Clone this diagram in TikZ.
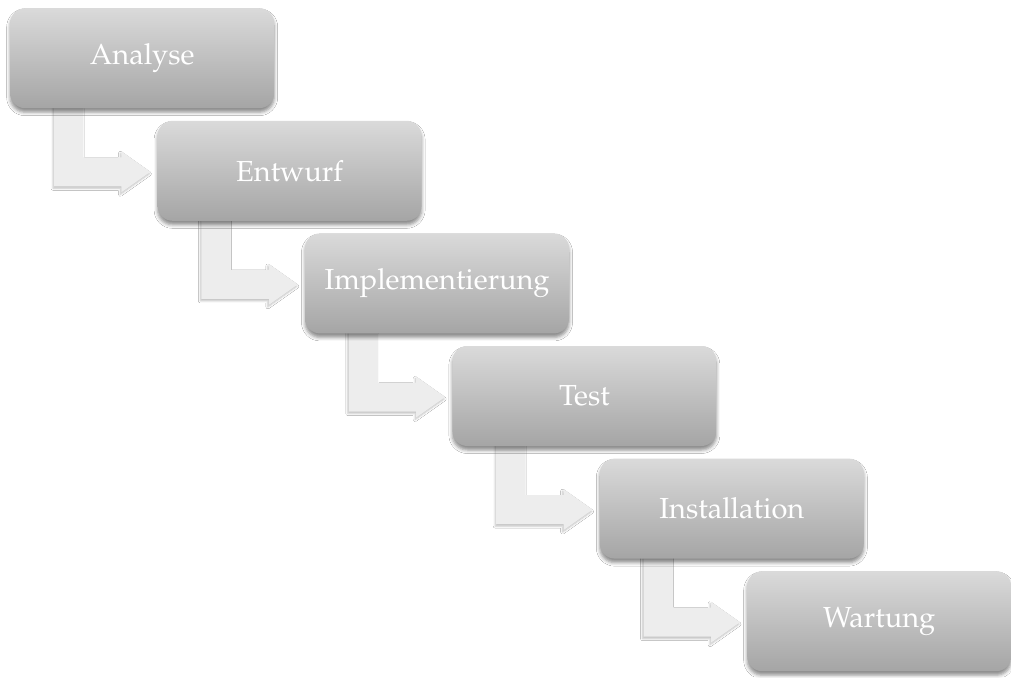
\documentclass[tikz,border=0pt]{standalone}
\usepackage[T1]{fontenc}
\usepackage{mathpazo}
\usetikzlibrary{calc,shadows.blur}
\pgfdeclarelayer{background}
\pgfsetlayers{background,main}
\definecolor{boxtop}{HTML}{DADADA}
\definecolor{boxbot}{HTML}{A5A5A5}
\definecolor{flowfill}{HTML}{EDEDED}

\begin{document}
\begin{tikzpicture}[x=1pt,y=-1pt,
  phase/.style={rectangle, rounded corners=15pt, anchor=north west,
    minimum width=264pt, minimum height=100pt, inner sep=0pt,
    top color=boxtop, bottom color=boxbot, draw=none, text=white,
    font=\fontsize{29}{34}\selectfont,
    blur shadow={shadow xshift=0pt, shadow yshift=-4pt,
      shadow blur radius=3.5pt, shadow opacity=45}},
  flow/.style={fill=flowfill,
    blur shadow={shadow xshift=-1pt, shadow yshift=-2pt,
      shadow blur radius=2pt, shadow opacity=25}}]

  \useasboundingbox (0,0) rectangle (1011,677);

  % the six phases of the waterfall
  \node[phase] (analyse) at (10,8)       {Analyse};
  \node[phase] (entwurf) at (157.4,120.6) {Entwurf};
  \node[phase] (impl)    at (304.8,233.2) {Implementierung};
  \node[phase] (test)    at (452.2,345.8) {Test};
  \node[phase] (install) at (599.6,458.4) {Installation};
  \node[phase] (wartung) at (747,571)     {Wartung};

  \begin{pgfonlayer}{background}
    \fill[white] (0,0) rectangle (1011,677);
    % bent arrows leading from each phase to the next
    \foreach \a/\b in {analyse/entwurf, entwurf/impl, impl/test,
                       test/install, install/wartung} {
      \coordinate (s)  at ($(\a.south west)+(44,-2)$);
      \coordinate (t)  at ($(\b.west)+(-7,1)$);
      \coordinate (sb) at ($(t)+(0,14.5)$);
      \coordinate (st) at ($(t)+(0,-14.5)$);
      \coordinate (hb) at ($(t)+(-29,20.5)$);
      \coordinate (ht) at ($(t)+(-29,-20.5)$);
      \fill[flow] (s) -- (s |- sb) -- (hb |- sb) -- (hb) -- (t) -- (ht)
        -- (ht |- st) -- ($(s |- st)+(29,0)$) -- ($(s)+(29,0)$) -- cycle;
    }
  \end{pgfonlayer}
\end{tikzpicture}
\end{document}
